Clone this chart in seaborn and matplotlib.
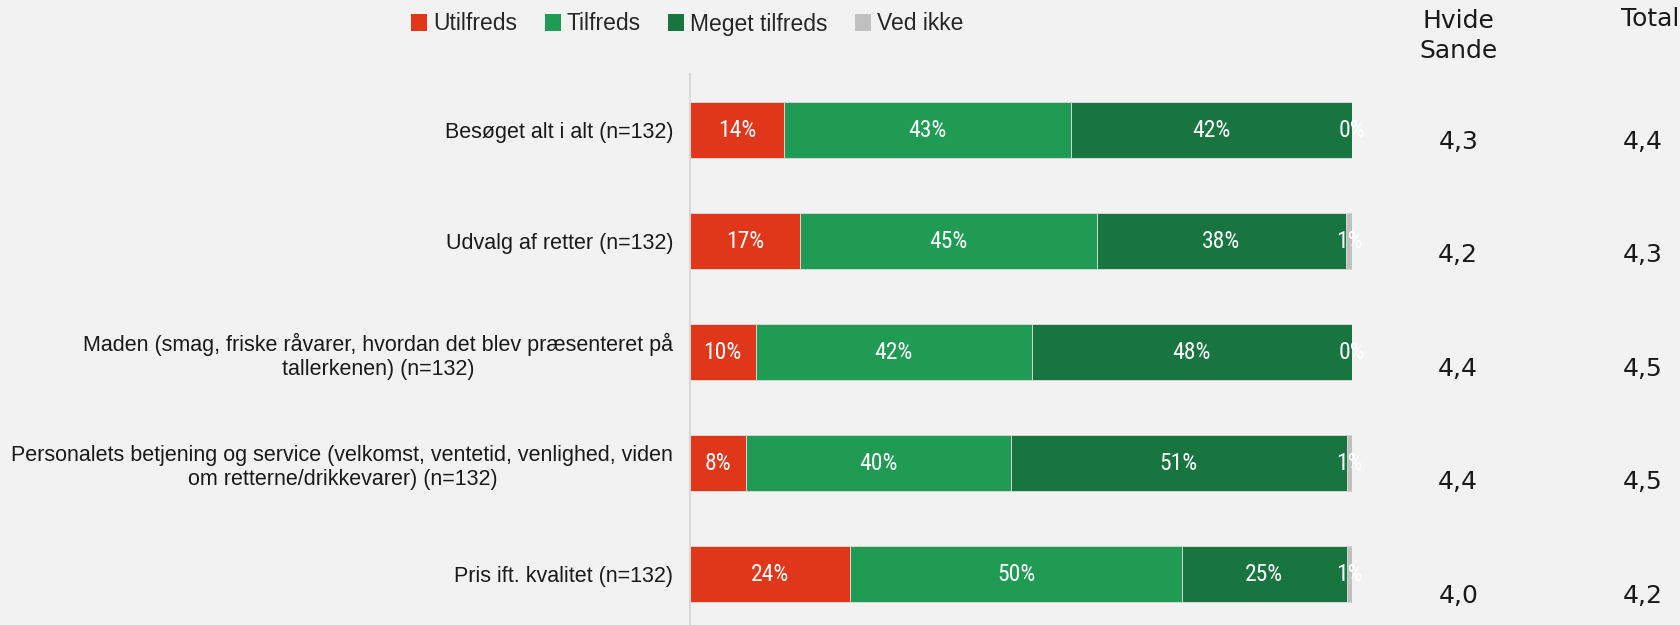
import numpy as np
import pandas as pd
import matplotlib.pyplot as plt
import seaborn as sns
from matplotlib.patches import Patch

# ---- data ----
categories = [
    "Besøget alt i alt (n=132)",
    "Udvalg af retter (n=132)",
    "Maden (smag, friske råvarer, hvordan det blev præsenteret på\ntallerkenen) (n=132)",
    "Personalets betjening og service (velkomst, ventetid, venlighed, viden\nom retterne/drikkevarer) (n=132)",
    "Pris ift. kvalitet (n=132)",
]
utilfreds = [14.2, 16.6, 9.9, 8.4, 24.2]
tilfreds = [43.4, 44.9, 41.7, 40.1, 50.1]
meget_tilfreds = [42.4, 37.6, 48.4, 50.7, 24.9]
ved_ikke = [0.0, 0.9, 0.0, 0.8, 0.8]

hvide_sande = [4.3, 4.2, 4.4, 4.4, 4.0]
total = [4.4, 4.3, 4.5, 4.5, 4.2]

series_names = ["Utilfreds", "Tilfreds", "Meget tilfreds", "Ved ikke"]
colors = ["#e0371a", "#209b53", "#187540", "#c0c0c0"]

# ---- style ----
sns.set_theme(style="white")
bg = "#f2f2f2"
plt.rcParams["font.family"] = ["Liberation Sans", "DejaVu Sans"]
plt.rcParams["figure.facecolor"] = bg
plt.rcParams["axes.facecolor"] = bg

df = pd.DataFrame({
    "kategori": categories,
    "Utilfreds": utilfreds,
    "Tilfreds": tilfreds,
    "Meget tilfreds": meget_tilfreds,
    "Ved ikke": ved_ikke,
})
cum = df[series_names].cumsum(axis=1)
cum["kategori"] = df["kategori"]

fig = plt.figure(figsize=(16.8, 6.25), dpi=100)
ax = fig.add_axes([0.4107, 0.0, 0.394, 1 - 74 / 625])

# stacked bars: draw cumulative totals from the back
for name, col in reversed(list(zip(series_names, colors))):
    sns.barplot(data=cum, x=name, y="kategori", order=categories,
                color=col, width=0.51, edgecolor="#d6d6d6", linewidth=0.7,
                errorbar=None, ax=ax, saturation=1)

# percentage labels
pct_font = ["Liberation Sans Narrow", "Roboto Condensed", "DejaVu Sans"]
for i in range(len(categories)):
    for name in series_names:
        val = df.loc[i, name]
        mid = cum.loc[i, name] - val / 2
        ax.text(mid, i, f"{val:.0f}%", ha="center", va="center",
                color="white", fontsize=17, family=pct_font, clip_on=False)

ax.set_xlim(0, 100)
ax.set_ylim(4.459, -0.505)
ax.set_xlabel("")
ax.set_ylabel("")
ax.set_xticks([])
ax.tick_params(axis="y", length=0, pad=12, labelsize=15.5, labelcolor="#1a1a1a")
for lab in ax.get_yticklabels():
    lab.set_multialignment("center")
for s in ["top", "right", "bottom"]:
    ax.spines[s].set_visible(False)
ax.spines["left"].set_color("#d9d9d9")
ax.spines["left"].set_linewidth(1.5)

# mean-score columns
ax2 = fig.add_axes([0, 0, 1, 1])
ax2.set_xlim(0, 1)
ax2.set_ylim(4.26, -1.252)
ax2.axis("off")
ax2.patch.set_visible(False)
for i in range(len(categories)):
    ax2.text(0.868, i, f"{hvide_sande[i]:.1f}".replace(".", ","), ha="center",
             va="center", fontsize=18, family="DejaVu Sans", color="#1a1a1a")
    ax2.text(0.978, i, f"{total[i]:.1f}".replace(".", ","), ha="center",
             va="center", fontsize=18, family="DejaVu Sans", color="#1a1a1a")

fig.text(0.868, 1 - 36 / 625, "Hvide\nSande", ha="center", va="center",
         fontsize=18, family="DejaVu Sans", color="#1a1a1a", linespacing=1.3)
fig.text(0.982, 1 - 19 / 625, "Total", ha="center", va="center",
         fontsize=18, family="DejaVu Sans", color="#1a1a1a")

# legend
handles = [Patch(facecolor=c, edgecolor="none") for c in colors]
fig.legend(handles, series_names, loc="center", bbox_to_anchor=(0.409, 1 - 24 / 625),
           ncol=4, frameon=False, fontsize=16.5, handlelength=0.7, handleheight=0.7,
           handletextpad=0.25, columnspacing=1.2, borderaxespad=0)

fig.savefig("out.png", dpi=100, facecolor=bg)
